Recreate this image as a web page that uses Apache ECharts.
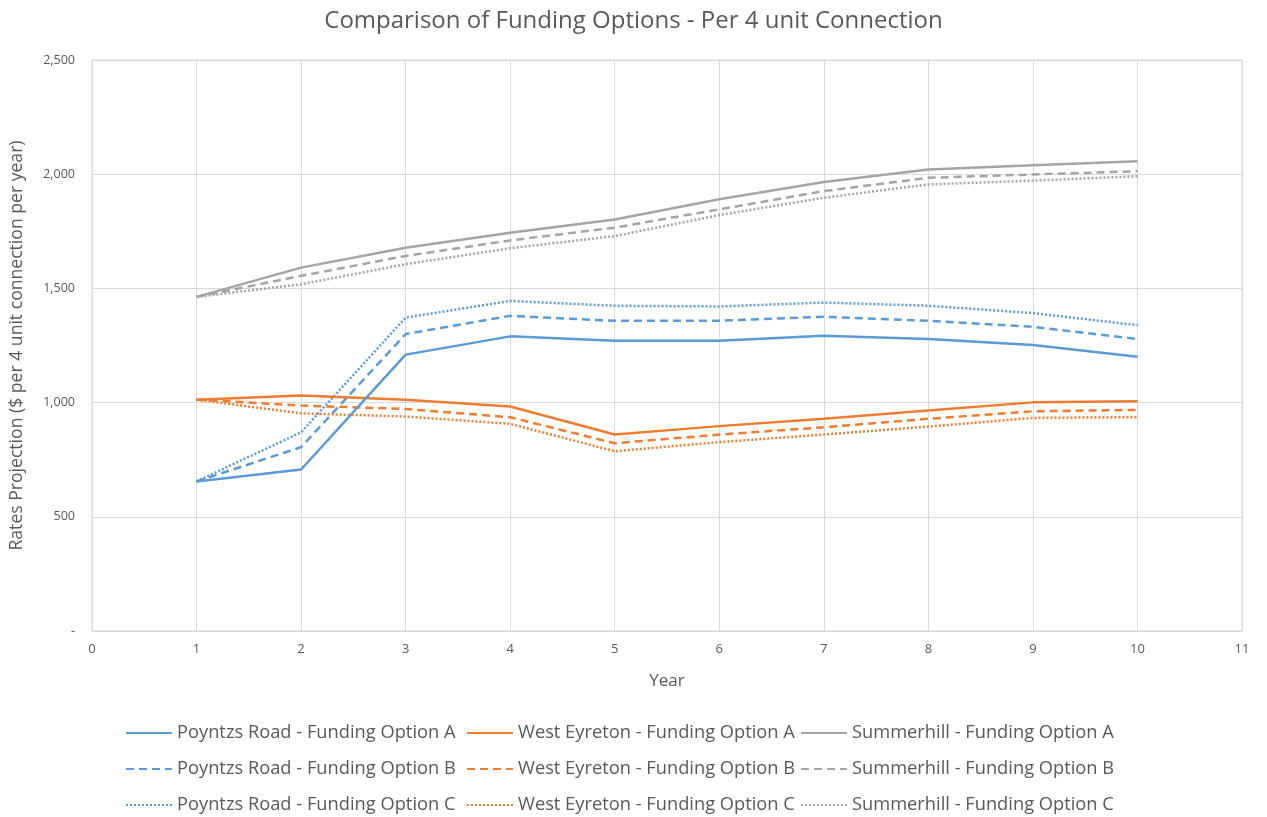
<!DOCTYPE html>
<html><head><meta charset="utf-8">
<script src="https://cdn.jsdelivr.net/npm/echarts@6/dist/echarts.min.js"></script>
<style>html,body{margin:0;padding:0;background:#fff}#c{width:1267px;height:817px}</style>
</head><body><div id="c"></div>
<script>
const years = [1,2,3,4,5,6,7,8,9,10];
const poyntzsA = [655, 707, 1210, 1290, 1271, 1271, 1293, 1278, 1252, 1201];
const poyntzsB = [655, 805, 1300, 1380, 1358, 1358, 1376, 1358, 1332, 1278];
const poyntzsC = [655, 870, 1372, 1445, 1424, 1421, 1438, 1424, 1392, 1339];
const westA = [1013, 1031, 1013, 983, 860, 897, 929, 965, 1001, 1006];
const westB = [1013, 987, 972, 936, 822, 860, 892, 929, 962, 968];
const westC = [1013, 953, 939, 907, 787, 827, 860, 895, 933, 936];
const summerA = [1463, 1591, 1678, 1744, 1802, 1890, 1966, 2021, 2039, 2057];
const summerB = [1463, 1555, 1642, 1710, 1766, 1846, 1926, 1984, 1999, 2013];
const summerC = [1463, 1518, 1606, 1676, 1729, 1821, 1897, 1955, 1972, 1991];
const seriesNames = [
  'Poyntzs Road - Funding Option A','West Eyreton - Funding Option A','Summerhill - Funding Option A',
  'Poyntzs Road - Funding Option B','West Eyreton - Funding Option B','Summerhill - Funding Option B',
  'Poyntzs Road - Funding Option C','West Eyreton - Funding Option C','Summerhill - Funding Option C'
];
const seriesData = [poyntzsA, westA, summerA, poyntzsB, westB, summerB, poyntzsC, westC, summerC];
const colors = ['#5B9BD5','#ED7D31','#A5A5A5'];
const dashTypes = ['solid', [8,5], [2,2]];
const FONT = 'Open Sans';

const series = seriesNames.map((n, i) => ({
  name: n, type: 'line', symbol: 'none', smooth: false,
  data: years.map((y, k) => [y, seriesData[i][k]]),
  lineStyle: { color: colors[i % 3], width: 2.5, type: dashTypes[Math.floor(i / 3)] },
  itemStyle: { color: colors[i % 3] },
  z: 10 - i
}));

const colLeft = [120, 461, 795];
const rowTop = [719, 755, 791];
const legends = seriesNames.map((n, i) => ({
  data: [n], left: colLeft[i % 3], top: rowTop[Math.floor(i / 3)],
  itemWidth: 46, itemHeight: 20, itemGap: 0,
  itemStyle: { opacity: 0, borderWidth: 0 },
  lineStyle: { width: 2 },
  textStyle: { fontFamily: FONT, fontSize: 18.3, color: '#595959', padding: [0,0,0,0] }
}));

const chart = echarts.init(document.getElementById('c'), null, { renderer: 'canvas' });
chart.setOption({
  animation: false,
  backgroundColor: '#fff',
  title: { text: 'Comparison of Funding Options - Per 4 unit Connection', left: 'center', top: 4,
    textStyle: { fontFamily: FONT, fontSize: 24, fontWeight: 'normal', color: '#595959' } },
  legend: legends,
  grid: { left: 92, right: 25, top: 60, bottom: 186, show: true, borderColor: '#d9d9d9', borderWidth: 1 },
  xAxis: {
    type: 'value', min: 0, max: 11, interval: 1,
    name: 'Year', nameLocation: 'middle', nameGap: 42,
    nameTextStyle: { fontFamily: FONT, fontSize: 17, color: '#595959' },
    axisLine: { show: true, lineStyle: { color: '#d9d9d9' } }, axisTick: { show: false },
    axisLabel: { fontFamily: FONT, fontSize: 13, color: '#595959', margin: 12 },
    splitLine: { show: true, lineStyle: { color: '#d9d9d9' } }
  },
  yAxis: {
    type: 'value', min: 0, max: 2500, interval: 500,
    name: 'Rates Projection ($ per 4 unit connection per year)', nameLocation: 'middle', nameGap: 66,
    nameTextStyle: { fontFamily: FONT, fontSize: 17.6, color: '#595959' },
    axisLine: { show: false }, axisTick: { show: false },
    axisLabel: { fontFamily: FONT, fontSize: 12.5, color: '#595959', margin: 17,
      formatter: v => v === 0 ? '-' : v.toLocaleString('en-US') },
    splitLine: { show: true, lineStyle: { color: '#d9d9d9' } }
  },
  series
});
</script></body></html>
